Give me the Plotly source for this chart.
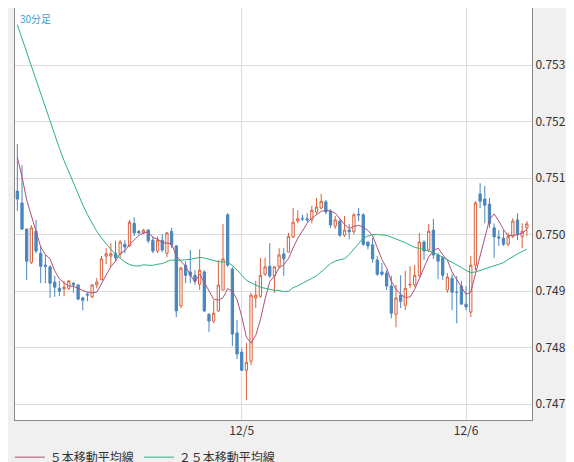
import pandas as pd
import plotly.graph_objects as go

# 30-minute bars, 12/4 00:00 .. 12/6 06:30
opens = [0.75077, 0.75056, 0.75010, 0.74951, 0.75006, 0.74967, 0.74946, 0.74943, 0.74916, 0.74905,
         0.74904, 0.74905, 0.74914, 0.74911, 0.74888, 0.74895, 0.74890, 0.74911, 0.74920, 0.74962,
         0.74962, 0.74967, 0.74966, 0.74983, 0.74980, 0.75020, 0.75006, 0.75003, 0.75008, 0.74990,
         0.74971, 0.74990, 0.74967, 0.75006, 0.74980, 0.74874, 0.74946, 0.74934, 0.74928, 0.74912,
         0.74934, 0.74859, 0.74847, 0.74865, 0.74902, 0.75035, 0.74939, 0.74826, 0.74792, 0.74760,
         0.74776, 0.74888, 0.74891, 0.74930, 0.74944, 0.74927, 0.74944, 0.74966, 0.74969, 0.74996,
         0.75024, 0.75029, 0.75028, 0.75026, 0.75040, 0.75047, 0.75058, 0.75042, 0.75015, 0.75024,
         0.74999, 0.75008, 0.75005, 0.75036, 0.75035, 0.74987, 0.74982, 0.74955, 0.74934, 0.74932,
         0.74909, 0.74859, 0.74893, 0.74875, 0.74911, 0.74911, 0.74928, 0.74987, 0.74973, 0.75008,
         0.74964, 0.74959, 0.74902, 0.74923, 0.74898, 0.74909, 0.74877, 0.74863, 0.74946, 0.75072,
         0.75063, 0.75054, 0.75012, 0.74996, 0.74994, 0.74983, 0.74997, 0.75026, 0.74997, 0.75012]
closes = [0.75063, 0.75010, 0.74953, 0.75012, 0.74971, 0.74944, 0.74944, 0.74914, 0.74907, 0.74900,
          0.74907, 0.74918, 0.74911, 0.74886, 0.74884, 0.74893, 0.74911, 0.74916, 0.74957, 0.74966,
          0.74966, 0.74959, 0.74987, 0.74978, 0.75022, 0.75003, 0.75003, 0.75008, 0.74989, 0.74971,
          0.74990, 0.74973, 0.75003, 0.74982, 0.74865, 0.74941, 0.74928, 0.74928, 0.74918, 0.74937,
          0.74865, 0.74847, 0.74861, 0.74911, 0.74957, 0.74946, 0.74824, 0.74789, 0.74760, 0.74774,
          0.74893, 0.74893, 0.74928, 0.74943, 0.74927, 0.74943, 0.74964, 0.74957, 0.74997, 0.75022,
          0.75028, 0.75028, 0.75026, 0.75043, 0.75049, 0.75059, 0.75040, 0.75017, 0.75026, 0.74999,
          0.75008, 0.75005, 0.75035, 0.75035, 0.74983, 0.74980, 0.74957, 0.74930, 0.74930, 0.74909,
          0.74861, 0.74888, 0.74882, 0.74905, 0.74912, 0.74928, 0.74987, 0.74971, 0.75006, 0.74964,
          0.74953, 0.74928, 0.74925, 0.74898, 0.74898, 0.74877, 0.74872, 0.74946, 0.75056, 0.75059,
          0.75052, 0.75020, 0.74996, 0.74994, 0.74983, 0.74997, 0.75024, 0.75001, 0.75006, 0.75019]
highs = [0.75160, 0.75123, 0.75010, 0.75017, 0.75026, 0.74980, 0.74964, 0.74946, 0.74927, 0.74918,
         0.74918, 0.74920, 0.74916, 0.74912, 0.74890, 0.74898, 0.74912, 0.74923, 0.74962, 0.74976,
         0.74985, 0.74989, 0.74990, 0.74990, 0.75026, 0.75031, 0.75008, 0.75010, 0.75010, 0.74997,
         0.74997, 0.75001, 0.75005, 0.75012, 0.74982, 0.74943, 0.74953, 0.74973, 0.74937, 0.74974,
         0.74937, 0.74861, 0.74884, 0.74955, 0.75019, 0.75038, 0.74943, 0.74849, 0.74799, 0.74808,
         0.74897, 0.74918, 0.74959, 0.74959, 0.74985, 0.74944, 0.74976, 0.74976, 0.75003, 0.75047,
         0.75043, 0.75035, 0.75038, 0.75051, 0.75065, 0.75072, 0.75061, 0.75045, 0.75033, 0.75028,
         0.75033, 0.75019, 0.75038, 0.75047, 0.75038, 0.74985, 0.74994, 0.74962, 0.74950, 0.74937,
         0.74927, 0.74911, 0.74928, 0.74936, 0.74944, 0.74946, 0.75003, 0.74990, 0.75019, 0.75028,
         0.74967, 0.74962, 0.74932, 0.74930, 0.74927, 0.74918, 0.74909, 0.74962, 0.75059, 0.75091,
         0.75086, 0.75065, 0.75020, 0.75008, 0.75008, 0.75003, 0.75029, 0.75038, 0.75020, 0.75024]
lows = [0.75042, 0.75008, 0.74920, 0.74948, 0.74967, 0.74914, 0.74914, 0.74888, 0.74890, 0.74891,
        0.74891, 0.74902, 0.74897, 0.74884, 0.74866, 0.74882, 0.74888, 0.74905, 0.74920, 0.74948,
        0.74943, 0.74953, 0.74959, 0.74967, 0.74978, 0.74997, 0.75001, 0.75001, 0.74985, 0.74967,
        0.74967, 0.74969, 0.74960, 0.74976, 0.74854, 0.74870, 0.74914, 0.74914, 0.74911, 0.74902,
        0.74863, 0.74828, 0.74843, 0.74863, 0.74902, 0.74943, 0.74803, 0.74780, 0.74759, 0.74707,
        0.74769, 0.74870, 0.74888, 0.74927, 0.74923, 0.74897, 0.74941, 0.74927, 0.74969, 0.74994,
        0.75020, 0.75024, 0.75022, 0.75020, 0.75036, 0.75045, 0.75036, 0.75012, 0.75010, 0.74996,
        0.74996, 0.74992, 0.75001, 0.75024, 0.74980, 0.74974, 0.74950, 0.74927, 0.74927, 0.74902,
        0.74852, 0.74836, 0.74870, 0.74866, 0.74905, 0.74907, 0.74925, 0.74955, 0.74969, 0.74957,
        0.74921, 0.74920, 0.74897, 0.74866, 0.74843, 0.74877, 0.74866, 0.74854, 0.74937, 0.75047,
        0.75020, 0.75012, 0.74959, 0.74980, 0.74980, 0.74980, 0.74994, 0.74990, 0.74976, 0.74997]
# closes of the bars before the visible window (only feed the moving averages)
prior_closes = [0.7562, 0.7560, 0.7561, 0.7558, 0.7556, 0.7553, 0.7554, 0.7550, 0.7548, 0.7545,
                0.7543, 0.7540, 0.7538, 0.7535, 0.7532, 0.7530, 0.7527, 0.7525, 0.7523, 0.7520,
                0.7518, 0.7516, 0.7515, 0.7513]
tick_pos = [48, 96]
tick_text = ["12/5", "12/6"]

n = len(closes)
x = list(range(n))
allc = pd.Series(prior_closes + closes)
ma5 = allc.rolling(5).mean().iloc[-n:].tolist()
ma25 = allc.rolling(25).mean().iloc[-n:].tolist()

fig = go.Figure()
fig.add_trace(go.Candlestick(
    x=x, open=opens, high=highs, low=lows, close=closes, showlegend=False,
    increasing=dict(line=dict(color="#d9603b", width=1), fillcolor="white"),
    decreasing=dict(line=dict(color="#4a86be", width=1), fillcolor="#4a86be"),
    whiskerwidth=0, hoverinfo="skip"))
fig.add_trace(go.Scatter(x=x, y=ma5, mode="lines", name="５本移動平均線",
                         line=dict(color="#b0507a", width=1)))
fig.add_trace(go.Scatter(x=x, y=ma25, mode="lines", name="２５本移動平均線",
                         line=dict(color="#2db37a", width=1)))

fig.add_annotation(text="30分足", xref="paper", yref="paper", x=0.005, y=0.998,
                   xanchor="left", yanchor="top", showarrow=False,
                   font=dict(size=10, color="#3aa0d8"))

fig.update_layout(
    width=574, height=462, margin=dict(l=7, r=50, t=0, b=50, pad=0, autoexpand=False),
    paper_bgcolor="#f0f0f0", plot_bgcolor="white",
    font=dict(family="Noto Sans CJK JP", size=12, color="#333"),
    showlegend=True,
    legend=dict(orientation="h", x=-0.01, y=-0.055, yanchor="top", xanchor="left",
                bgcolor="rgba(0,0,0,0)", font=dict(size=12, color="#333"),
                itemwidth=30),
    xaxis=dict(range=[-0.5, 110.1], tickvals=tick_pos, ticktext=tick_text,
               showgrid=True, gridcolor="#dcdcdc", zeroline=False, rangeslider=dict(visible=False),
               showline=True, linecolor="#888", mirror=True, ticks="", tickfont=dict(size=12)),
    yaxis=dict(range=[0.74672, 0.75401], side="right", dtick=0.001, tickformat=".3f",
               showgrid=True, gridcolor="#dcdcdc", zeroline=False,
               showline=True, linecolor="#888", mirror=True, ticks="", tickfont=dict(size=12)),
)
fig.write_html("out.html")
